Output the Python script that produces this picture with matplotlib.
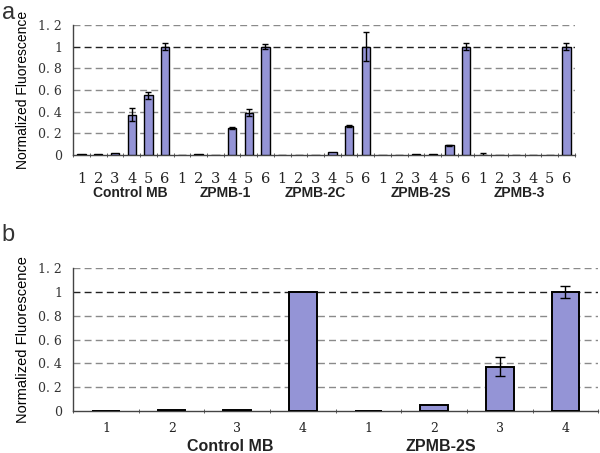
import numpy as np
import matplotlib.pyplot as plt
from matplotlib.ticker import FixedLocator

# --- data: panel a (5 probes x 6 conditions) ---
groups_a = ["Control MB", "ZPMB-1", "ZPMB-2C", "ZPMB-2S", "ZPMB-3"]
cond_a = ["1", "2", "3", "4", "5", "6"]
vals_a = [
    [0.005, 0.010, 0.020, 0.37, 0.55, 1.00],
    [0.003, 0.008, 0.000, 0.25, 0.39, 1.00],
    [0.000, 0.000, 0.003, 0.03, 0.27, 1.00],
    [0.003, 0.003, 0.005, 0.01, 0.09, 1.00],
    [0.000, 0.000, 0.000, 0.00, 0.00, 1.00],
]
errs_a = [
    [0.0, 0.0, 0.0, 0.06, 0.03, 0.03],
    [0.0, 0.0, 0.0, 0.01, 0.03, 0.02],
    [0.0, 0.0, 0.0, 0.00, 0.01, 0.13],
    [0.0, 0.0, 0.0, 0.00, 0.005, 0.03],
    [0.02, 0.0, 0.0, 0.00, 0.00, 0.03],
]

# --- data: panel b (2 probes x 4 conditions) ---
groups_b = ["Control MB", "ZPMB-2S"]
cond_b = ["1", "2", "3", "4"]
vals_b = [
    [0.003, 0.005, 0.010, 1.00],
    [0.003, 0.050, 0.370, 1.00],
]
errs_b = [
    [0.0, 0.0, 0.0, 0.0],
    [0.0, 0.0, 0.08, 0.05],
]

yticks = [0, 0.2, 0.4, 0.6, 0.8, 1.0, 1.2]
ytick_labels = ["0", "0. 2", "0. 4", "0. 6", "0. 8", "1", "1. 2"]

BAR = "#9494d6"
SERIF = ["DejaVu Serif"]
SANS = ["Liberation Sans", "DejaVu Sans"]

fig = plt.figure(figsize=(6.0, 4.53), dpi=100)
ax_a = fig.add_axes([0.122, 0.658, 0.836, 0.287])
ax_b = fig.add_axes([0.122, 0.093, 0.875, 0.315])


def draw_panel(ax, groups, conds, vals, errs, width, lw, cap, ytick_fs, xtick_fs, xpad,
               ylab_fs, grp_fs, grp_y, grp_shift):
    vals = np.array(vals).ravel()
    errs = np.array(errs).ravel()
    n = len(vals)
    x = np.arange(n)
    ax.bar(x, vals, width=width, color=BAR, edgecolor="black", linewidth=lw, zorder=3)
    has = errs > 0
    ax.errorbar(x[has], vals[has], yerr=errs[has], fmt="none", ecolor="black",
                elinewidth=1, capsize=cap, capthick=1, zorder=4)
    ax.set_xlim(-0.5, n - 0.5)
    ax.set_ylim(0, 1.2)
    ax.set_yticks(yticks)
    ax.set_yticklabels(ytick_labels, family=SERIF, fontsize=ytick_fs, color="#333333")
    ax.tick_params(axis="y", length=0, pad=8)
    for v in yticks[1:]:
        c = "#222222" if v == 1.0 else "#8a8a8a"
        ax.axhline(v, color=c, linestyle=(0, (5, 3)), linewidth=1.0, zorder=1)
    ax.set_xticks(x)
    ax.set_xticklabels(conds * len(groups), family=SERIF, fontsize=xtick_fs, color="#222222")
    ax.tick_params(axis="x", which="major", length=0, pad=xpad)
    ax.xaxis.set_minor_locator(FixedLocator(np.arange(n + 1) - 0.5))
    ax.tick_params(axis="x", which="minor", length=3, direction="inout", color="#444444")
    for s in ["top", "right"]:
        ax.spines[s].set_visible(False)
    for s in ["left", "bottom"]:
        ax.spines[s].set_color("#444444")
        ax.spines[s].set_linewidth(1.0)
    ax.set_ylabel("Normalized Fluorescence", family=SANS, fontsize=ylab_fs, labelpad=6)
    k = len(conds)
    for i, g in enumerate(groups):
        cx = i * k + (k - 1) / 2 + grp_shift[i]
        ax.text(cx, grp_y, g, transform=ax.get_xaxis_transform(), ha="center", va="center",
                family=SANS, fontsize=grp_fs, fontweight="bold", color="#222222")


draw_panel(ax_a, groups_a, cond_a, vals_a, errs_a, 0.5, 1.0, 2.5, 9, 10.5, 12, 10, 10, -0.29,
           [0.4, 0.1, -0.5, -0.2, -0.3])
draw_panel(ax_b, groups_b, cond_b, vals_b, errs_b, 0.42, 1.4, 3.5, 9, 9, 8, 10.5, 11.5, -0.25,
           [0.4, -0.4])

fig.text(0.003, 0.995, "a", family=SANS, fontsize=17, va="top", ha="left", color="#333333")
fig.text(0.003, 0.505, "b", family=SANS, fontsize=17, va="top", ha="left", color="#333333")

fig.savefig("out.png", dpi=100)
